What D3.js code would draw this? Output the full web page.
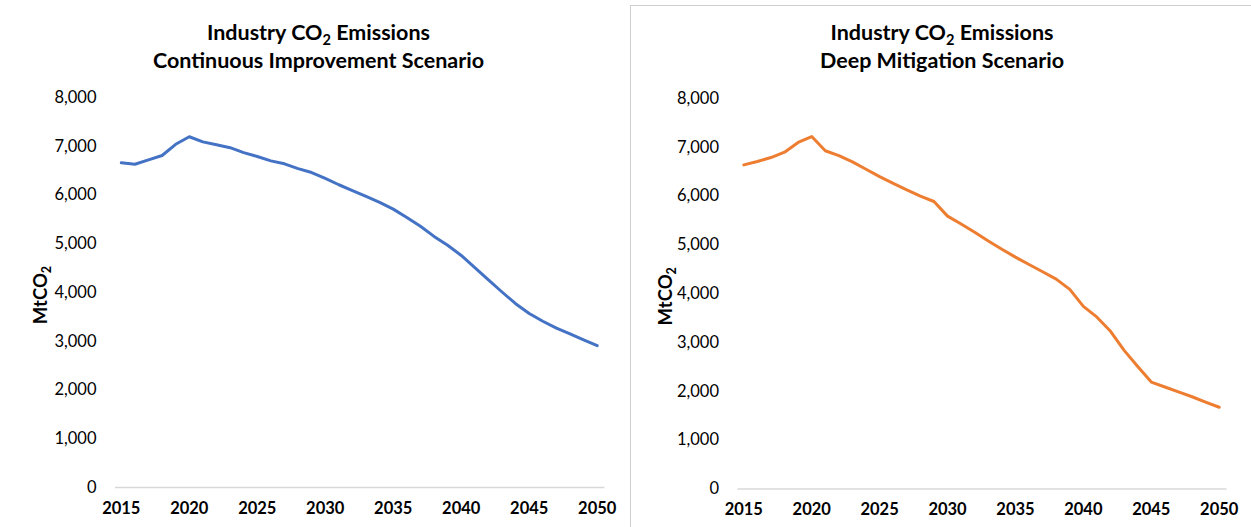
<!DOCTYPE html>
<html>
<head>
<meta charset="utf-8">
<script src="https://cdn.jsdelivr.net/npm/d3@7"></script>
<style>
  html, body { margin: 0; padding: 0; background: #fff; }
  svg { display: block; }
  text { font-family: Lato, "Liberation Sans", Arial, sans-serif; fill: #000; }
</style>
</head>
<body>
<svg id="chart" width="1251" height="527"></svg>
<script>
// Categories: one point per year
const years = [2015, 2016, 2017, 2018, 2019, 2020, 2021, 2022, 2023, 2024,
               2025, 2026, 2027, 2028, 2029, 2030, 2031, 2032, 2033, 2034,
               2035, 2036, 2037, 2038, 2039, 2040, 2041, 2042, 2043, 2044,
               2045, 2046, 2047, 2048, 2049, 2050];
const yearTicks = [2015, 2020, 2025, 2030, 2035, 2040, 2045, 2050];
const valueTicks = [0, 1000, 2000, 3000, 4000, 5000, 6000, 7000, 8000];

// Industry CO2 emissions, MtCO2
const continuousImprovement = [6650, 6620, 6710, 6800, 7030, 7185, 7080, 7020, 6960, 6860,
                               6780, 6690, 6630, 6530, 6450, 6330, 6200, 6080, 5960, 5840,
                               5700, 5530, 5350, 5140, 4960, 4750, 4500, 4250, 4000, 3760,
                               3560, 3400, 3260, 3140, 3020, 2900];
const deepMitigation = [6630, 6700, 6780, 6890, 7090, 7210, 6920, 6820, 6690, 6540,
                        6390, 6250, 6120, 5990, 5880, 5580, 5420, 5250, 5070, 4900,
                        4740, 4590, 4440, 4290, 4080, 3730, 3510, 3220, 2830, 2500,
                        2180, 2080, 1980, 1880, 1770, 1665];

const titleLine = "Industry CO";
const panelTitles = ["Continuous Improvement Scenario", "Deep Mitigation Scenario"];
const seriesColors = ["#4472C4", "#ED7D31"];

const FONT = 'Lato, "Liberation Sans", Arial, sans-serif';

const svg = d3.select("#chart");
svg.append("rect").attr("width", 1251).attr("height", 527).attr("fill", "#fff");

// Frame of the second chart
svg.append("rect")
  .attr("x", 630.5).attr("y", 5.5)
  .attr("width", 700).attr("height", 600)
  .attr("fill", "none").attr("stroke", "#cfcfcf").attr("stroke-width", 1);

const panels = [
  { values: continuousImprovement, subtitle: panelTitles[0], color: seriesColors[0],
    left: 114.5, right: 604, top: 97, bottom: 487, titleX: 318.5, axisTitleX: 46.5 },
  { values: deepMitigation, subtitle: panelTitles[1], color: seriesColors[1],
    left: 737, right: 1226, top: 98, bottom: 488.5, titleX: 942, axisTitleX: 672 }
];

// Writes a subscript 2 after "CO"
function subscriptTwo(textSel, size) {
  const shift = size * 0.22;
  textSel.append("tspan").attr("font-size", size * 0.68).attr("dy", shift).text("2");
  return shift;
}

panels.forEach(p => {
  const g = svg.append("g");

  const x = d3.scaleBand().domain(years).range([p.left, p.right]).padding(0);
  const y = d3.scaleLinear().domain([0, 8000]).range([p.bottom, p.top]);
  const cx = d => x(d) + x.bandwidth() / 2;

  // Title (two lines)
  const titleSize = 21.5;
  const t1 = g.append("text")
    .attr("x", p.titleX).attr("y", 40)
    .attr("text-anchor", "middle")
    .attr("font-size", titleSize).attr("font-weight", "bold");
  t1.append("tspan").text(titleLine);
  const sh = subscriptTwo(t1, titleSize);
  t1.append("tspan").attr("dy", -sh).text(" Emissions");

  g.append("text")
    .attr("x", p.titleX).attr("y", 67.5)
    .attr("text-anchor", "middle")
    .attr("font-size", titleSize).attr("font-weight", "bold")
    .text(p.subtitle);

  // Value axis
  const yAxis = g.append("g")
    .attr("transform", `translate(${p.left},0)`)
    .call(d3.axisLeft(y).tickValues(valueTicks).tickFormat(d3.format(",")).tickSize(0).tickPadding(18));
  yAxis.select(".domain").remove();
  yAxis.selectAll("text")
    .attr("font-size", 16.5).attr("fill", "#111")
    .style("font-family", FONT);

  // Category axis with baseline
  const xAxis = g.append("g")
    .attr("transform", `translate(0,${p.bottom})`)
    .call(d3.axisBottom(x).tickValues(yearTicks).tickSize(0).tickSizeOuter(0).tickPadding(15));
  xAxis.select(".domain").attr("stroke", "#d9d9d9").attr("stroke-width", 1.3);
  xAxis.selectAll("text")
    .attr("font-size", 16.5).attr("font-weight", "bold").attr("fill", "#000")
    .style("font-family", FONT);

  // Axis title, rotated
  const at = g.append("text")
    .attr("transform", `translate(${p.axisTitleX},${(p.top + p.bottom) / 2 + 3}) rotate(-90)`)
    .attr("text-anchor", "middle")
    .attr("font-size", 18.5).attr("font-weight", "bold");
  at.append("tspan").text("MtCO");
  subscriptTwo(at, 18.5);

  // Emissions line
  const line = d3.line()
    .x((d, i) => cx(years[i]))
    .y(d => y(d));
  g.append("path")
    .datum(p.values)
    .attr("d", line)
    .attr("fill", "none")
    .attr("stroke", p.color)
    .attr("stroke-width", 3)
    .attr("stroke-linejoin", "round")
    .attr("stroke-linecap", "round");
});
</script>
</body>
</html>
